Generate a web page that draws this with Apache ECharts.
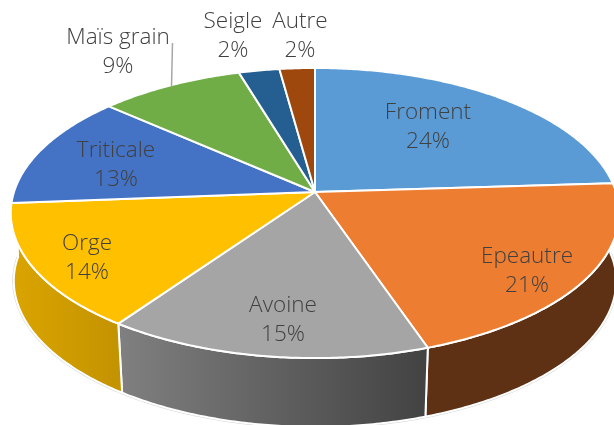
<!DOCTYPE html>
<html lang="fr">

<head>
    <meta charset="UTF-8">
    <title>Cereales</title>
    <script src="https://cdn.jsdelivr.net/npm/echarts@6/dist/echarts.min.js"></script>
    <style>
        html,
        body {
            height: 100%;
            margin: 0;
            padding: 0;
            background-color: #fff;
        }

        #pic {
            width: 614px;
            height: 425px;
        }
    </style>
</head>

<body>
    <div id="pic"></div>

    <script>
        // data
        const categories = ['Froment', 'Epeautre', 'Avoine', 'Orge', 'Triticale', 'Maïs grain', 'Seigle', 'Autre'];
        const values = [24, 20.76, 15.01, 14.01, 12.72, 8.85, 2.49, 2.16];

        // styles
        const topColors = ['#5b9bd5', '#ed7d31', '#a5a5a5', '#ffc000', '#4472c4', '#70ad47', '#255e91', '#9e480e'];
        const wallFrom = ['#375d80', '#5e3114', '#808080', '#dba500'];
        const wallTo = ['#375d80', '#5e3114', '#424242', '#c29200'];
        const labelCenters = [[428, 127], [527, 271], [283, 320], [87, 258], [116, 165], [118, 52], [233, 36], [300, 36]];

        // tilted disc, near side bigger
        const cx = 315, cy = 192, fx = 301, fy = 142, persp = 0.145;
        const depth = 70, wallScale = 0.993;
        const wallEndAngle = 272 / 180 * Math.PI;
        const total = values.reduce((a, b) => a + b, 0);

        function startOf(i) {
            let s = 0;
            for (let j = 0; j < i; j++) s += values[j];
            return s / total * 2 * Math.PI;
        }

        function rimPoint(a, low) {
            const u = Math.sin(a), v = -Math.cos(a);
            const w = 1 / (1 - persp * v);
            if (low) {
                // the wall's vertical edges lean inwards towards the viewer
                const sx = 0.992 - 0.014 * Math.max(0, v);
                return [cx + fx * u * w * sx, cy + depth + fy * v * w * wallScale];
            }
            return [cx + fx * u * w, cy + fy * v * w];
        }

        function rimPoints(a1, a2, low) {
            const pts = [];
            const n = Math.max(2, Math.ceil((a2 - a1) / 0.01));
            for (let i = 0; i <= n; i++) {
                pts.push(rimPoint(a1 + (a2 - a1) * i / n, low));
            }
            return pts;
        }

        function renderTop(params, api) {
            const i = params.dataIndex;
            const a1 = startOf(i);
            const a2 = a1 + api.value(0) / total * 2 * Math.PI;
            return {
                type: 'polygon',
                shape: { points: [[cx, cy]].concat(rimPoints(a1, a2, false)) },
                style: { fill: topColors[i], stroke: '#fff', lineWidth: 2, lineJoin: 'round' }
            };
        }

        // only the slices on the near side show a wall
        function renderWall(params, api) {
            const i = params.dataIndex;
            if (i >= wallFrom.length) return null;
            const a1 = startOf(i);
            let a2 = a1 + api.value(0) / total * 2 * Math.PI;
            if (i === wallFrom.length - 1) a2 = wallEndAngle;
            const pts = rimPoints(a1, a2, false).concat(rimPoints(a1, a2, true).reverse());
            return {
                type: 'group',
                children: [{
                    type: 'polyline',
                    shape: { points: rimPoints(a1, a2, true) },
                    style: { fill: 'none', stroke: '#d4d4d4', lineWidth: 3 }
                }, {
                    type: 'polygon',
                    shape: { points: pts },
                    style: {
                        fill: {
                            type: 'linear', x: 0, y: 0, x2: 1, y2: 0,
                            colorStops: [{ offset: 0, color: wallFrom[i] }, { offset: 1, color: wallTo[i] }]
                        },
                        stroke: '#fff', lineWidth: 2, lineJoin: 'round'
                    }
                }]
            };
        }

        function renderLabel(params, api) {
            const i = params.dataIndex;
            return {
                type: 'text',
                style: {
                    x: labelCenters[i][0],
                    y: labelCenters[i][1],
                    text: categories[i] + '\n' + Math.round(api.value(0)) + '%',
                    align: 'center',
                    verticalAlign: 'middle',
                    fill: '#404040',
                    font: '300 22.5px "Open Sans"',
                    lineHeight: 29
                }
            };
        }

        const myChart = echarts.init(document.getElementById('pic'), null, { renderer: 'canvas' });

        myChart.setOption({
            animation: false,
            backgroundColor: '#fff',
            graphic: [{
                type: 'line',
                z: 10,
                shape: { x1: 172.5, y1: 43, x2: 171.5, y2: 87 },
                style: { stroke: '#a6a6a6', lineWidth: 1.5 }
            }],
            series: [
                { type: 'custom', coordinateSystem: 'none', z: 1, data: values, renderItem: renderWall },
                { type: 'custom', coordinateSystem: 'none', z: 2, data: values, renderItem: renderTop },
                { type: 'custom', coordinateSystem: 'none', z: 3, data: values, renderItem: renderLabel }
            ]
        });
    </script>
</body>

</html>
